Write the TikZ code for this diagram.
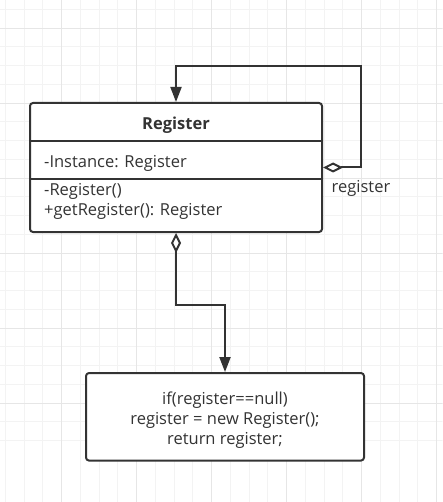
\documentclass[tikz,border=0pt]{standalone}
\usepackage{fontspec}
\setmainfont{Open Sans}
\usetikzlibrary{arrows.meta}

\definecolor{ink}{HTML}{333333}
\definecolor{gridminor}{HTML}{F3F3F3}
\definecolor{gridmajor}{HTML}{E6E6E6}

\begin{document}
\begin{tikzpicture}[
  x=1pt, y=-1pt,
  line cap=round,
  line join=round,
  every node/.style={font=\fontsize{16.5}{20}\selectfont, text=ink},
  box/.style={draw=ink, line width=2pt, rounded corners=3pt, fill=white, inner sep=0pt},
  link/.style={draw=ink, line width=2pt, line cap=butt, line join=miter},
  agg/.style={link, {Diamond[open,fill=white,length=20pt,width=10pt]}-{Triangle[length=15pt,width=11pt]}}
]
  \def\cell{18.75}

  \useasboundingbox (0,0) rectangle (442,502);

  % background grid
  \foreach \i in {0,...,23} {
    \draw[gridminor, line width=1pt] ({5.45+\i*\cell},0) -- ++(0,502);
    \draw[gridminor, line width=1pt] (0,{9.3+\i*\cell}) -- ++(442,0);
  }
  \foreach \i in {0,...,5} {
    \draw[gridmajor, line width=1pt] ({61.7+\i*75},0) -- ++(0,502);
    \draw[gridmajor, line width=1pt] (0,{28.3+\i*75}) -- ++(442,0);
  }

  % class Register
  \node[box, minimum width=292pt, minimum height=129pt] (reg) at (176,167.5) {};
  \draw[link] (reg.west |- 0,141) -- (reg.east |- 0,141);
  \draw[link] (reg.west |- 0,179) -- (reg.east |- 0,179);
  \node[font=\fontsize{16.5}{20}\selectfont\bfseries] (title) at (reg.north |- 0,125) {Register};
  \node[anchor=west, inner sep=0pt] (attr) at (44,163) {-Instance: Register};
  \node[anchor=west, inner sep=0pt, align=left] (ops) at (44,201)
    {-Register()\\+getRegister(): Register};

  % body of getRegister
  \node[box, minimum width=278pt, minimum height=87.5pt] (code) at (225,416.8) {};
  \node[align=center] (codetext) at (225,420)
    {if(register==null)\\register = new Register();\\return register;};

  % connectors
  \draw[agg] (reg.east) -- ++(38,0) |- ++(-185,-101) -- (reg.north);
  \node (role) at (361,188) {register};
  \draw[agg] (reg.south) -- ++(0,72) -| (code.north);
\end{tikzpicture}
\end{document}
